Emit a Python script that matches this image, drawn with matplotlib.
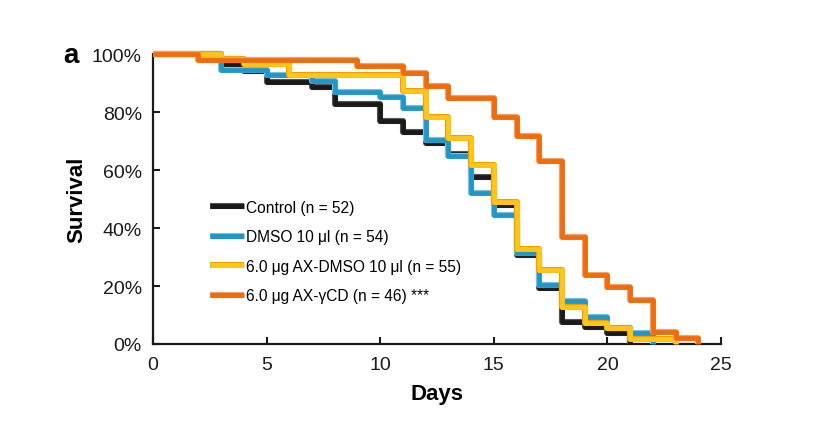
import matplotlib
matplotlib.use("Agg")
import matplotlib.pyplot as plt
import matplotlib.patheffects as pe

plt.rcParams['font.family'] = ['Liberation Sans', 'DejaVu Sans']

# Data (days, survival %)
control_days = [0, 3, 4, 5, 7, 8, 10, 11, 12, 13, 14, 15, 16, 17, 18, 19, 20, 21]
control_surv = [100, 96.2, 94.2, 90.4, 88.5, 82.7, 76.9, 73.1, 69.2, 65.4, 57.7, 48.1, 30.8, 19.2, 7.7, 5.8, 3.8, 0]

dmso_days = [0, 3, 5, 7, 8, 10, 11, 12, 13, 14, 15, 16, 17, 18, 19, 20, 21, 22]
dmso_surv = [100, 94.4, 92.6, 90.7, 87.0, 85.2, 81.5, 70.4, 64.8, 51.9, 44.4, 31.5, 20.4, 14.8, 9.3, 5.6, 3.7, 0]

axdmso_days = [0, 3, 4, 6, 11, 12, 13, 14, 15, 16, 17, 18, 19, 20, 21, 23]
axdmso_surv = [100, 98.2, 96.4, 92.7, 87.3, 78.2, 70.9, 61.8, 49.1, 32.7, 25.5, 12.7, 7.3, 5.5, 1.8, 0]

axcd_days = [0, 2, 9, 11, 12, 13, 15, 16, 17, 18, 19, 20, 21, 22, 23, 24]
axcd_surv = [100, 97.8, 95.7, 93.5, 89.1, 84.8, 78.3, 71.7, 63.0, 37.0, 23.9, 19.6, 15.2, 4.3, 2.2, 0]

labels = ["Control (n = 52)", "DMSO 10 μl (n = 54)",
          "6.0 μg AX-DMSO 10 μl (n = 55)", "6.0 μg AX-γCD (n = 46) ***"]
x_ticks = [0, 5, 10, 15, 20, 25]
y_ticks = [0, 20, 40, 60, 80, 100]
y_ticklabels = ["0%", "20%", "40%", "60%", "80%", "100%"]

series = [
    (control_days, control_surv, '#1a1a1a', '#555555'),
    (dmso_days, dmso_surv, '#2196c9', '#7cc0e0'),
    (axdmso_days, axdmso_surv, '#ffc61a', '#eea000'),
    (axcd_days, axcd_surv, '#ee6c0c', '#f4a06a'),
]

fig = plt.figure(figsize=(8.28, 4.27), dpi=100)
ax = fig.add_axes([153/828, 1-345/427, 568/828, 290/427])

for i, ((d, s, c, ec), lab) in enumerate(zip(series, labels)):
    ax.step(d, s, where='post', color=c, lw=3.4, label=lab, zorder=2+i,
            clip_on=False, solid_joinstyle='round', solid_capstyle='butt',
            path_effects=[pe.Stroke(linewidth=4.4, foreground=ec), pe.Normal()])

ax.set_xlim(0, 25)
ax.set_ylim(0, 100)
ax.set_xticks(x_ticks)
ax.set_xticklabels([str(t) for t in x_ticks])
ax.set_yticks(y_ticks)
ax.set_yticklabels(y_ticklabels)
for sp in ['top', 'right']:
    ax.spines[sp].set_visible(False)
for sp in ['left', 'bottom']:
    ax.spines[sp].set_linewidth(1.6)
    ax.spines[sp].set_color('#1a1a1a')
    ax.spines[sp].set_zorder(1)
ax.tick_params(direction='in', length=5, width=1.5, labelsize=14, colors='#1a1a1a')
ax.tick_params(axis='x', pad=9)
ax.tick_params(axis='y', pad=8)

ax.set_xlabel("Days", fontsize=16, fontweight='bold', labelpad=7)
ax.set_ylabel("Survival", fontsize=16, fontweight='bold', labelpad=3)
fig.text(63/828, 1-56/427, "a", fontsize=20, fontweight='bold', va='center', ha='left')

leg = ax.legend(loc='upper left', bbox_to_anchor=(0.1, 0.497), frameon=False,
                fontsize=11.2, handlelength=2.2, handletextpad=0.12,
                labelspacing=0.93, borderpad=0, borderaxespad=0)
for h in leg.get_lines():
    h.set_linewidth(3.6)

fig.savefig("out.png", dpi=100)
